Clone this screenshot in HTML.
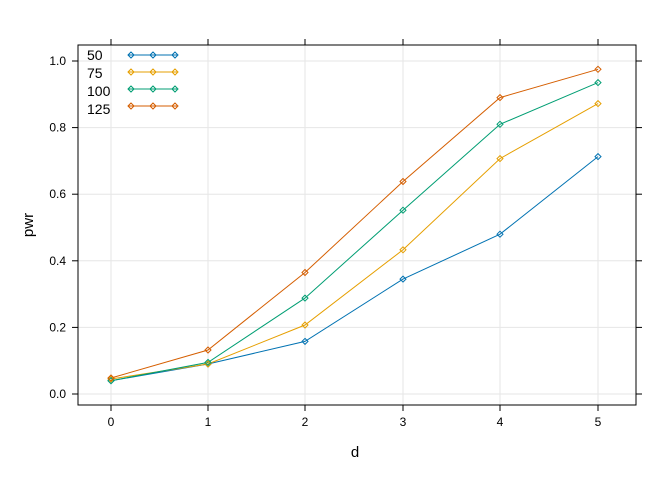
<!DOCTYPE html>
<html><head><style>body{margin:0;background:#fff}svg{display:block}text{font-family:"Liberation Sans",sans-serif}</style></head><body>
<svg width="672" height="480" viewBox="0 0 672 480" xmlns="http://www.w3.org/2000/svg">
<rect width="672" height="480" fill="#fff"/>
<g stroke="#e6e6e6" stroke-width="1">
<line x1="111" y1="45" x2="111" y2="405"/><line x1="208" y1="45" x2="208" y2="405"/><line x1="305" y1="45" x2="305" y2="405"/><line x1="403" y1="45" x2="403" y2="405"/><line x1="500" y1="45" x2="500" y2="405"/><line x1="598" y1="45" x2="598" y2="405"/>
<line x1="78" y1="394" x2="636" y2="394"/><line x1="78" y1="327.4" x2="636" y2="327.4"/><line x1="78" y1="260.8" x2="636" y2="260.8"/><line x1="78" y1="194.2" x2="636" y2="194.2"/><line x1="78" y1="127.6" x2="636" y2="127.6"/><line x1="78" y1="61" x2="636" y2="61"/>
</g>
<rect x="78" y="45" width="558" height="360" fill="none" stroke="#000"/>
<g stroke="#000">
<line x1="111" y1="405" x2="111" y2="411"/><line x1="208" y1="405" x2="208" y2="411"/><line x1="305" y1="405" x2="305" y2="411"/><line x1="403" y1="405" x2="403" y2="411"/><line x1="500" y1="405" x2="500" y2="411"/><line x1="598" y1="405" x2="598" y2="411"/>
<line x1="111" y1="45" x2="111" y2="39"/><line x1="208" y1="45" x2="208" y2="39"/><line x1="305" y1="45" x2="305" y2="39"/><line x1="403" y1="45" x2="403" y2="39"/><line x1="500" y1="45" x2="500" y2="39"/><line x1="598" y1="45" x2="598" y2="39"/>
<line x1="72" y1="394" x2="78" y2="394"/><line x1="72" y1="327.4" x2="78" y2="327.4"/><line x1="72" y1="260.8" x2="78" y2="260.8"/><line x1="72" y1="194.2" x2="78" y2="194.2"/><line x1="72" y1="127.6" x2="78" y2="127.6"/><line x1="72" y1="61" x2="78" y2="61"/>
<line x1="636" y1="394" x2="642" y2="394"/><line x1="636" y1="327.4" x2="642" y2="327.4"/><line x1="636" y1="260.8" x2="642" y2="260.8"/><line x1="636" y1="194.2" x2="642" y2="194.2"/><line x1="636" y1="127.6" x2="642" y2="127.6"/><line x1="636" y1="61" x2="642" y2="61"/>
</g>
<g font-size="12" text-anchor="middle" fill="#000">
<text x="111" y="426">0</text><text x="208" y="426">1</text><text x="305" y="426">2</text><text x="403" y="426">3</text><text x="500" y="426">4</text><text x="598" y="426">5</text>
</g>
<g font-size="12" text-anchor="end" fill="#000">
<text x="66" y="398">0.0</text><text x="66" y="331.4">0.2</text><text x="66" y="264.8">0.4</text><text x="66" y="198.2">0.6</text><text x="66" y="131.6">0.8</text><text x="66" y="65">1.0</text>
</g>
<text x="355" y="457" font-size="15" text-anchor="middle">d</text>
<text x="33" y="225" font-size="15" text-anchor="middle" transform="rotate(-90 33 225)">pwr</text>
<g fill="none" stroke-width="1">
<g stroke="#0072B2"><polyline points="111,380.7 208,364 305,341.4 403,279.1 500,234.2 598,156.6"/></g>
<g stroke="#E69F00"><polyline points="111,379 208,364 305,325 403,249.8 500,158.6 598,103.6"/></g>
<g stroke="#009E73"><polyline points="111,380.7 208,362.4 305,298.1 403,210.2 500,124.3 598,82.6"/></g>
<g stroke="#D55E00"><polyline points="111,378 208,350 305,272.5 403,181.5 500,97.6 598,69.3"/></g>
</g>
<g fill="none" stroke-width="1">
<g stroke="#0072B2"><path d="M111,377.7l3,3l-3,3l-3,-3z M208,361l3,3l-3,3l-3,-3z M305,338.4l3,3l-3,3l-3,-3z M403,276.1l3,3l-3,3l-3,-3z M500,231.2l3,3l-3,3l-3,-3z M598,153.6l3,3l-3,3l-3,-3z"/></g>
<g stroke="#E69F00"><path d="M111,376l3,3l-3,3l-3,-3z M208,361l3,3l-3,3l-3,-3z M305,322l3,3l-3,3l-3,-3z M403,246.8l3,3l-3,3l-3,-3z M500,155.6l3,3l-3,3l-3,-3z M598,100.6l3,3l-3,3l-3,-3z"/></g>
<g stroke="#009E73"><path d="M111,377.7l3,3l-3,3l-3,-3z M208,359.4l3,3l-3,3l-3,-3z M305,295.1l3,3l-3,3l-3,-3z M403,207.2l3,3l-3,3l-3,-3z M500,121.3l3,3l-3,3l-3,-3z M598,79.6l3,3l-3,3l-3,-3z"/></g>
<g stroke="#D55E00"><path d="M111,375l3,3l-3,3l-3,-3z M208,347l3,3l-3,3l-3,-3z M305,269.5l3,3l-3,3l-3,-3z M403,178.5l3,3l-3,3l-3,-3z M500,94.6l3,3l-3,3l-3,-3z M598,66.3l3,3l-3,3l-3,-3z"/></g>
</g>
<g font-size="14" fill="#000">
<text x="87" y="60">50</text><text x="87" y="78">75</text><text x="87" y="96">100</text><text x="87" y="114">125</text>
</g>
<g fill="none">
<g stroke="#0072B2"><line x1="128" y1="55" x2="177" y2="55"/><path d="M131,52l3,3l-3,3l-3,-3z M153,52l3,3l-3,3l-3,-3z M175,52l3,3l-3,3l-3,-3z"/></g>
<g stroke="#E69F00"><line x1="128" y1="72" x2="177" y2="72"/><path d="M131,69l3,3l-3,3l-3,-3z M153,69l3,3l-3,3l-3,-3z M175,69l3,3l-3,3l-3,-3z"/></g>
<g stroke="#009E73"><line x1="128" y1="89" x2="177" y2="89"/><path d="M131,86l3,3l-3,3l-3,-3z M153,86l3,3l-3,3l-3,-3z M175,86l3,3l-3,3l-3,-3z"/></g>
<g stroke="#D55E00"><line x1="128" y1="106" x2="177" y2="106"/><path d="M131,103l3,3l-3,3l-3,-3z M153,103l3,3l-3,3l-3,-3z M175,103l3,3l-3,3l-3,-3z"/></g>
</g>
</svg>
</body></html>
